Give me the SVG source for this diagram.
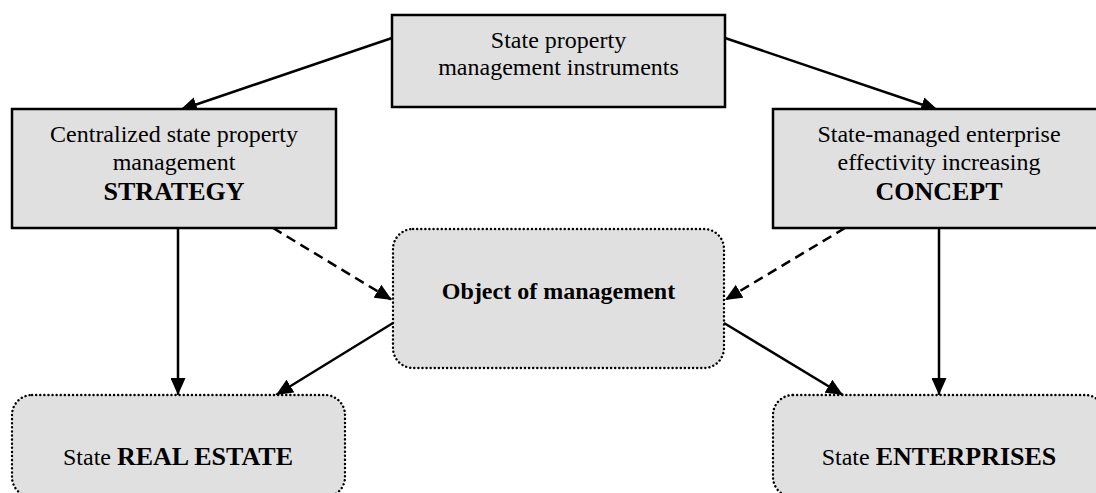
<svg xmlns="http://www.w3.org/2000/svg" width="1096" height="493" viewBox="0 0 1096 493">
<style>
.box{fill:#e0e0e0;stroke:#000;stroke-width:2.5}
.rbox{fill:#e0e0e0;stroke:#000;stroke-width:2.4;stroke-dasharray:0.1 4;stroke-linecap:round}
.t{font-family:"Liberation Serif","Times New Roman",serif;font-size:24px;fill:#000;text-anchor:middle}
.b{font-weight:bold}
.big{font-size:26px;font-weight:bold}
.ln{stroke:#000;stroke-width:2.5;fill:none;marker-end:url(#ah)}
.dash{stroke-dasharray:10 6}
</style>
<defs>
<marker id="ah" markerUnits="userSpaceOnUse" markerWidth="17" markerHeight="15" viewBox="0 0 17 15" refX="17" refY="7.5" orient="auto">
<path d="M0,0 L17,7.5 L0,15 z" fill="#000"/>
</marker>
</defs>
<rect width="1096" height="493" fill="#fff"/>
<g id="connectors">
<line class="ln" x1="392" y1="38" x2="180" y2="110"/>
<line class="ln" x1="725" y1="38" x2="938" y2="110"/>
<line class="ln" x1="178" y1="228" x2="178" y2="395"/>
<line class="ln" x1="939" y1="228" x2="939" y2="395"/>
<line class="ln dash" x1="273" y1="228" x2="392" y2="300"/>
<line class="ln dash" x1="845" y1="228" x2="725" y2="300"/>
<line class="ln" x1="393" y1="323" x2="276" y2="395"/>
<line class="ln" x1="724" y1="323" x2="843" y2="395"/>
</g>
<g id="instruments">
<rect class="box" x="392" y="15" width="333" height="92"/>
<text class="t" x="558.5" y="48">State property</text>
<text class="t" x="558.5" y="75">management instruments</text>
</g>
<g id="strategy">
<rect class="box" x="12" y="109" width="324" height="119"/>
<text class="t" x="174" y="142">Centralized state property</text>
<text class="t" x="174" y="170">management</text>
<text class="t big" x="174" y="200">STRATEGY</text>
</g>
<g id="concept">
<rect class="box" x="773" y="109" width="332" height="119"/>
<text class="t" x="939" y="142">State-managed enterprise</text>
<text class="t" x="939" y="170">effectivity increasing</text>
<text class="t big" x="939" y="200">CONCEPT</text>
</g>
<g id="object">
<rect class="rbox" x="393" y="229" width="331" height="139" rx="20" ry="20"/>
<text class="t b" x="558.5" y="299">Object of management</text>
</g>
<g id="realestate">
<rect class="rbox" x="12" y="395" width="333" height="102" rx="20" ry="20"/>
<text class="t" x="178" y="465">State <tspan class="big">REAL ESTATE</tspan></text>
</g>
<g id="enterprises">
<rect class="rbox" x="773" y="395" width="332" height="102" rx="20" ry="20"/>
<text class="t" x="939" y="465">State <tspan class="big">ENTERPRISES</tspan></text>
</g>
</svg>
